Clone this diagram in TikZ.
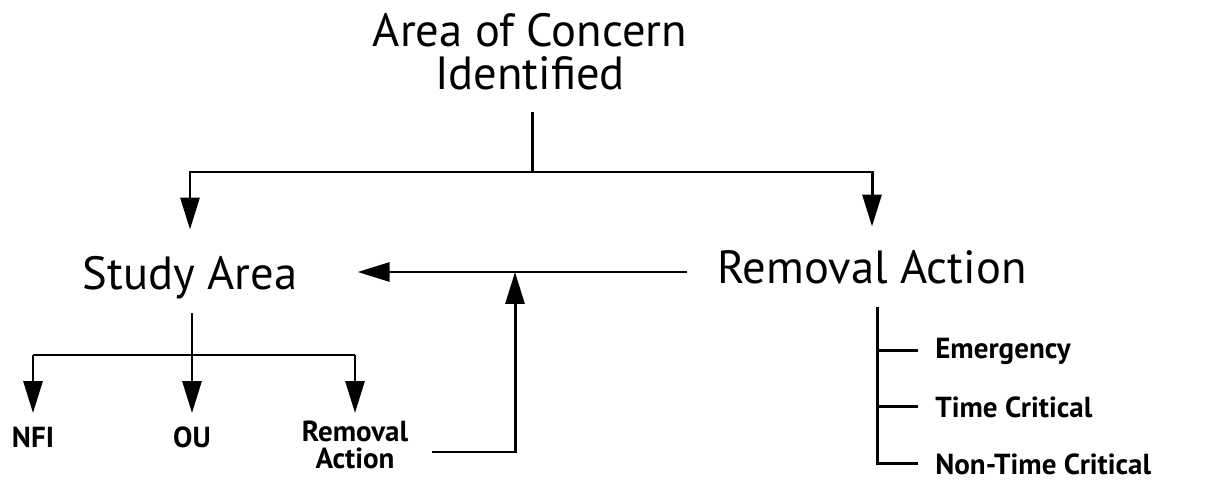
\documentclass[tikz,border=0pt]{standalone}
\usepackage{fontspec}
\setmainfont{PT Sans}
\usetikzlibrary{arrows.meta}

\tikzset{
	flow/.style = {line width=1.7pt},
	tip/.style  = {-{Triangle[length=0.64cm, width=0.38cm]}},
	big/.style  = {inner sep=0pt, align=center,
		font=\fontsize{26.5}{24.5}\selectfont},
	small/.style = {inner sep=0pt, align=center,
		font=\bfseries\fontsize{16.5}{15}\selectfont},
}

\begin{document}
\begin{tikzpicture}[x=0.02cm, y=-0.02cm]
		\useasboundingbox (0, 0) rectangle (1210, 480);

		\path (530, 13)  node (Concern) [big, anchor=north] {Area of Concern\\Identified};
		\path (190, 289) node (Study)   [big, anchor=base] {Study Area};
		\path (872, 283) node (Removal) [big, anchor=base] {Removal Action};

		\path (33, 447)  node (NFI)        [small, anchor=base]  {NFI};
		\path (192, 447) node (OU)         [small, anchor=base]  {OU};
		\path (355, 421) node (SubRemoval) [small, anchor=north] {Removal\\Action};

		\path (935, 358) node (Emergency) [small, anchor=base west] {Emergency};
		\path (935, 417) node (Critical)  [small, anchor=base west] {Time Critical};
		\path (935, 474) node (NonTime)   [small, anchor=base west] {Non-Time Critical};

		\coordinate (Split) at (532, 172);
		\coordinate (Fork)  at (192, 355);
		\coordinate (Tips)  at (0, 413);
		\coordinate (Rail)  at (877, 307);
		\coordinate (Start) at (432, 452);
		\coordinate (Turn)  at (515, 452);
		\coordinate (Join)  at (515, 272);

		% top
		\draw[flow, shorten <=0.44cm] (Concern.south -| Split) -- (Split);
		\draw[flow, tip, shorten >=0.52cm] (Split) -| (Study.north);
		\draw[flow, tip, shorten >=0.46cm] (Split) -| (Removal.north);
		\draw[flow, tip, shorten <=0.6cm, shorten >=1.2cm]
			(Removal.west |- Join) -- (Study.east |- Join);
		\draw[flow, tip] (Start) -- (Turn) -- (Join);

		% study area
		\draw[flow, shorten <=0.28cm] (Fork |- Study.south) -- (Fork);
		\draw[flow] (NFI |- Fork) -- (SubRemoval |- Fork);
		\foreach \n in {NFI, OU, SubRemoval}
			\draw[flow, tip] (\n |- Fork) -- (\n |- Tips);

		% removal action
		\draw[flow, shorten >=0.34cm] (Rail) |- (NonTime.west);
		\foreach \n in {Emergency, Critical}
			\draw[flow, shorten >=0.34cm] (Rail |- \n.west) -- (\n.west);
	\end{tikzpicture}
\end{document}
